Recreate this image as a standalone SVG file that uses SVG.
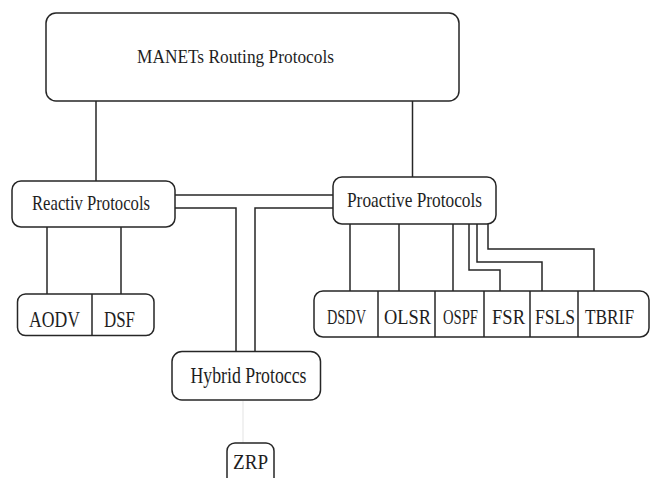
<svg xmlns="http://www.w3.org/2000/svg" width="650" height="478" viewBox="0 0 650 478">
<style>
.box{fill:#fff;stroke:#262626;stroke-width:1.5}
.ln{fill:none;stroke:#262626;stroke-width:1.5}
.faint{fill:none;stroke:#e8e8e8;stroke-width:1.2}
text{font-family:"Liberation Serif","DejaVu Serif","Times New Roman",serif;fill:#1e1e1e}
.t19{font-size:19.5px}
.t20{font-size:20px}
.t21{font-size:21px}
.t22{font-size:22px}
.t23{font-size:23px}
</style>
<rect width="650" height="478" fill="#fff"/>
<g id="connectors">
<line class="ln" x1="96" y1="101" x2="96" y2="181"/>
<line class="ln" x1="412.5" y1="101" x2="412.5" y2="177"/>
<line class="ln" x1="175" y1="195" x2="333" y2="195"/>
<polyline class="ln" points="175,208 236,208 236,351"/>
<polyline class="ln" points="333,208 255,208 255,351"/>
<line class="ln" x1="47" y1="227" x2="47" y2="294"/>
<line class="ln" x1="121" y1="227" x2="121" y2="294"/>
<line class="ln" x1="350" y1="224" x2="350" y2="291"/>
<line class="ln" x1="399" y1="224" x2="399" y2="291"/>
<line class="ln" x1="453" y1="224" x2="453" y2="291"/>
<polyline class="ln" points="469,224 469,270 500,270 500,291"/>
<polyline class="ln" points="477,224 477,262 542,262 542,291"/>
<polyline class="ln" points="488,224 488,249 594,249 594,291"/>
<line class="faint" x1="243" y1="401" x2="243" y2="443"/>
</g>
<g id="manets">
<rect class="box" x="46" y="13" width="413" height="88" rx="10"/>
<text class="t19" x="137" y="62.5" textLength="197" lengthAdjust="spacingAndGlyphs">MANETs Routing Protocols</text>
</g>
<g id="reactive">
<rect class="box" x="12" y="181" width="163" height="46" rx="9"/>
<text class="t22" x="32" y="210" textLength="118" lengthAdjust="spacingAndGlyphs">Reactiv Protocols</text>
</g>
<g id="proactive">
<rect class="box" x="333" y="177" width="163" height="47" rx="9"/>
<text class="t21" x="347" y="206.5" textLength="135" lengthAdjust="spacingAndGlyphs">Proactive Protocols</text>
</g>
<g id="reactive-list">
<rect class="box" x="17.5" y="294" width="136.5" height="41.5" rx="8"/>
<line class="ln" x1="92" y1="294" x2="92" y2="335.5"/>
<text class="t23" x="29" y="326.5" textLength="51" lengthAdjust="spacingAndGlyphs">AODV</text>
<text class="t23" x="104" y="326.5" textLength="31" lengthAdjust="spacingAndGlyphs">DSF</text>
</g>
<g id="proactive-list">
<rect class="box" x="314" y="291" width="335" height="46" rx="9"/>
<line class="ln" x1="378" y1="291" x2="378" y2="337"/>
<line class="ln" x1="435" y1="291" x2="435" y2="337"/>
<line class="ln" x1="484" y1="291" x2="484" y2="337"/>
<line class="ln" x1="530" y1="291" x2="530" y2="337"/>
<line class="ln" x1="578" y1="291" x2="578" y2="337"/>
<text class="t20" x="327" y="324" textLength="39" lengthAdjust="spacingAndGlyphs">DSDV</text>
<text class="t20" x="384" y="324" textLength="47" lengthAdjust="spacingAndGlyphs">OLSR</text>
<text class="t20" x="443" y="324" textLength="35" lengthAdjust="spacingAndGlyphs">OSPF</text>
<text class="t20" x="492" y="324" textLength="33" lengthAdjust="spacingAndGlyphs">FSR</text>
<text class="t20" x="535" y="324" textLength="40" lengthAdjust="spacingAndGlyphs">FSLS</text>
<text class="t20" x="585" y="324" textLength="49" lengthAdjust="spacingAndGlyphs">TBRIF</text>
</g>
<g id="hybrid">
<rect class="box" x="172" y="351.5" width="148.5" height="48.5" rx="10"/>
<text class="t23" x="190.5" y="383.3" textLength="116" lengthAdjust="spacingAndGlyphs">Hybrid Protoccs</text>
</g>
<g id="zrp">
<rect class="box" x="227" y="443" width="47" height="45" rx="8"/>
<text class="t22" x="233" y="469" textLength="35" lengthAdjust="spacingAndGlyphs">ZRP</text>
</g>
</svg>
